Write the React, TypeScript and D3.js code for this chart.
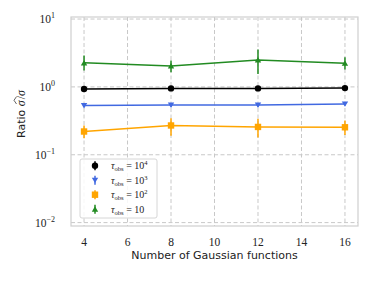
import React from 'react'
import * as d3 from 'd3'

const nGauss = [4, 8, 12, 16]
const xTicks = [4, 6, 8, 10, 12, 14, 16]
const yTicks = [1, 0, -1, -2]

const blackVals = [0.93, 0.95, 0.95, 0.96]
const blackLo = [0.9, 0.92, 0.92, 0.93]
const blackHi = [0.96, 0.98, 0.98, 0.99]

const blueVals = [0.53, 0.54, 0.54, 0.56]
const blueLo = [0.5, 0.51, 0.51, 0.53]
const blueHi = [0.56, 0.57, 0.57, 0.59]

const orangeVals = [0.22, 0.27, 0.257, 0.254]
const orangeLo = [0.175, 0.19, 0.18, 0.195]
const orangeHi = [0.27, 0.345, 0.34, 0.32]

const greenVals = [2.26, 2.04, 2.5, 2.23]
const greenLo = [1.74, 1.65, 1.55, 1.8]
const greenHi = [2.9, 2.44, 3.55, 2.74]

const legendExps = ['4', '3', '2', '']

const W = 374
const H = 281
const m = { left: 71, right: 16, top: 17, bottom: 55 }

const x = d3.scaleLinear().domain([3.4, 16.6]).range([m.left, W - m.right])
const y = d3.scaleLog().domain([Math.pow(10, -2.05), Math.pow(10, 1.03)]).range([H - m.bottom, m.top])

const series = [
  { vals: blackVals, lo: blackLo, hi: blackHi, color: '#000000', marker: 'circle' },
  { vals: blueVals, lo: blueLo, hi: blueHi, color: '#4169e1', marker: 'down' },
  { vals: orangeVals, lo: orangeLo, hi: orangeHi, color: '#ffa500', marker: 'square' },
  { vals: greenVals, lo: greenLo, hi: greenHi, color: '#228b22', marker: 'up' },
]

const Marker = ({ cx, cy, kind, color }: { cx: number; cy: number; kind: string; color: string }) => {
  const s = 3.2
  if (kind === 'circle') return <circle cx={cx} cy={cy} r={s} fill={color} />
  if (kind === 'square') return <rect x={cx - s} y={cy - s} width={2 * s} height={2 * s} fill={color} />
  if (kind === 'down')
    return <path d={`M${cx - s},${cy - s * 0.8} L${cx + s},${cy - s * 0.8} L${cx},${cy + s * 0.9} Z`} fill={color} />
  return <path d={`M${cx - s},${cy + s * 0.8} L${cx + s},${cy + s * 0.8} L${cx},${cy - s * 0.9} Z`} fill={color} />
}

const App = () => {
  const line = d3
    .line<number>()
    .x((_, i) => x(nGauss[i]))
    .y((d) => y(d))

  const serif = "'Liberation Serif', 'DejaVu Serif', serif"
  const sans = "'DejaVu Sans', sans-serif"
  const x0 = m.left
  const x1 = W - m.right
  const y0 = m.top
  const y1 = H - m.bottom

  return (
    <svg width={W} height={H} style={{ position: 'absolute', left: 0, top: 0 }}>
      <rect x={0} y={0} width={W} height={H} fill="white" />
      {/* grid */}
      {xTicks.map((t) => (
        <line key={'gx' + t} x1={x(t)} x2={x(t)} y1={y0} y2={y1} stroke="#c8c8c8" strokeDasharray="4,2.5" strokeWidth={1} />
      ))}
      {yTicks.map((e) => (
        <line key={'gy' + e} x1={x0} x2={x1} y1={y(Math.pow(10, e))} y2={y(Math.pow(10, e))} stroke="#c8c8c8" strokeDasharray="4,2.5" strokeWidth={1} />
      ))}
      {/* series */}
      {series.map((s, si) => (
        <g key={'s' + si}>
          <path d={line(s.vals) || ''} fill="none" stroke={s.color} strokeWidth={1.5} />
          {s.vals.map((v, i) => (
            <g key={i}>
              <line x1={x(nGauss[i])} x2={x(nGauss[i])} y1={y(s.lo[i])} y2={y(s.hi[i])} stroke={s.color} strokeWidth={1.5} />
              <Marker cx={x(nGauss[i])} cy={y(v)} kind={s.marker} color={s.color} />
            </g>
          ))}
        </g>
      ))}
      {/* frame */}
      <rect x={x0} y={y0} width={x1 - x0} height={y1 - y0} fill="none" stroke="#cfcfcf" strokeWidth={1.2} />
      {/* x ticks */}
      {xTicks.map((t) => (
        <text key={'tx' + t} x={x(t)} y={y1 + 20} textAnchor="middle" fontFamily={serif} fontSize={11.5} fill="#222">
          {t}
        </text>
      ))}
      {/* y ticks */}
      {yTicks.map((e) => (
        <text key={'ty' + e} x={x0 - 16} y={y(Math.pow(10, e)) + 4} textAnchor="end" fontFamily={serif} fontSize={11.5} fill="#222">
          10
          <tspan dy={-5} fontSize={8}>
            {e < 0 ? '\u2212' + Math.abs(e) : String(e)}
          </tspan>
        </text>
      ))}
      <text x={(x0 + x1) / 2} y={259} textAnchor="middle" fontFamily={sans} fontSize={11} fill="#222">
        Number of Gaussian functions
      </text>
      <g transform={`translate(25,119) rotate(-90)`}>
        <text x={-19} y={0} textAnchor="start" fontFamily={sans} fontSize={11} fill="#222">
          Ratio{' '}
          <tspan fontFamily={serif} fontStyle="italic" fontSize={12}>
            σ
          </tspan>
          <tspan fontFamily={serif} fontSize={12} dx={1}>
            /
          </tspan>
          <tspan fontFamily={serif} fontStyle="italic" fontSize={12}>
            σ
          </tspan>
        </text>
        <path d="M15,-8.5 L18.7,-11 L22.4,-8.5" fill="none" stroke="#222" strokeWidth={0.7} />
      </g>
      {/* legend */}
      <rect x={80} y={159} width={77} height={59} rx={2} fill="white" fillOpacity={0.85} stroke="#cccccc" strokeWidth={0.8} />
      {series.map((s, i) => {
        const ly = 165.7 + i * 14.5
        return (
          <g key={'l' + i}>
            <line x1={95} x2={95} y1={ly - 4.5} y2={ly + 4.5} stroke={s.color} strokeWidth={1.5} />
            <Marker cx={95} cy={ly} kind={s.marker} color={s.color} />
            <text x={111} y={ly + 3.5} fontFamily={serif} fontSize={10} fill="#222">
              <tspan fontStyle="italic">τ</tspan>
              <tspan fontSize={6.5} dy={2}>obs</tspan>
              <tspan dy={-2}> = 10</tspan>
              {legendExps[i] !== '' ? (
                <tspan fontSize={6.5} dy={-4}>
                  {legendExps[i]}
                </tspan>
              ) : null}
            </text>
          </g>
        )
      })}
    </svg>
  )
}

export default App
